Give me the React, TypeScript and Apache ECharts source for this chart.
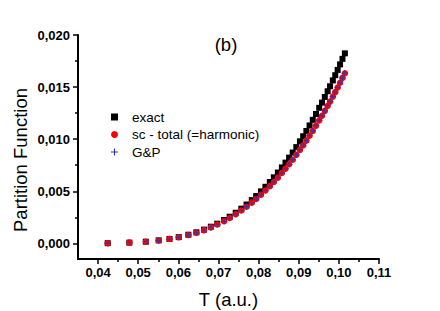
import React, { useEffect, useRef } from "react";
import * as echarts from "echarts";

const temperatures = [0.0424,0.0478,0.0519,0.0551,0.0578,0.0601,0.0625,0.0645,0.0664,0.0681,0.0697,0.0714,0.0728,0.0743,0.0757,0.0770,0.0783,0.0794,0.0806,0.0817,0.0828,0.0838,0.0848,0.0858,0.0867,0.0876,0.0885,0.0894,0.0903,0.0911,0.0919,0.0927,0.0935,0.0943,0.0951,0.0958,0.0965,0.0972,0.0978,0.0985,0.0991,0.0997,0.1003,0.1009,0.1015];

const exactValues = [0.00002,0.00007,0.00016,0.00029,0.00043,0.00060,0.00083,0.00106,0.00132,0.00160,0.00189,0.00224,0.00256,0.00294,0.00333,0.00373,0.00415,0.00454,0.00499,0.00543,0.00589,0.00634,0.00680,0.00729,0.00775,0.00823,0.00872,0.00924,0.00979,0.01028,0.01079,0.01132,0.01186,0.01242,0.01301,0.01351,0.01405,0.01460,0.01508,0.01564,0.01614,0.01665,0.01718,0.01771,0.01824];

const scValues = [0.00002,0.00007,0.00016,0.00028,0.00042,0.00059,0.00080,0.00102,0.00127,0.00153,0.00181,0.00213,0.00243,0.00279,0.00315,0.00352,0.00391,0.00426,0.00467,0.00507,0.00549,0.00589,0.00631,0.00675,0.00716,0.00759,0.00803,0.00850,0.00898,0.00941,0.00986,0.01033,0.01080,0.01130,0.01181,0.01225,0.01272,0.01320,0.01361,0.01409,0.01452,0.01496,0.01542,0.01588,0.01633];

const gpValues = [0.00002,0.00007,0.00016,0.00028,0.00042,0.00059,0.00080,0.00102,0.00127,0.00153,0.00181,0.00213,0.00243,0.00279,0.00315,0.00352,0.00391,0.00426,0.00467,0.00507,0.00549,0.00589,0.00631,0.00675,0.00716,0.00759,0.00803,0.00850,0.00898,0.00941,0.00986,0.01033,0.01080,0.01130,0.01181,0.01225,0.01272,0.01320,0.01361,0.01409,0.01452,0.01496,0.01542,0.01588,0.01633];

const xMajorTicks = [0.04, 0.05, 0.06, 0.07, 0.08, 0.09, 0.10, 0.11];
const xMinorTicks = [0.045, 0.055, 0.065, 0.075, 0.085, 0.095, 0.105];
const yMajorTicks = [0, 0.005, 0.01, 0.015, 0.02];
const yMinorTicks = [0.0025, 0.0075, 0.0125, 0.0175];

const seriesNames = ["exact", "sc - total (=harmonic)", "G&P"];

const FONT = "'Liberation Sans', Arial, Helvetica, sans-serif";
const PLUS = "path://M4.2,0H5.8V4.2H10V5.8H5.8V10H4.2V5.8H0V4.2H4.2Z";

const pairs = (ys: number[]) => temperatures.map((t, i) => [t, ys[i]]);

export default function App() {
  const ref = useRef<HTMLDivElement>(null);
  useEffect(() => {
    if (!ref.current) return;
    const chart = echarts.init(ref.current, null, { renderer: "svg" });
    const axisLine = { show: true, onZero: false, lineStyle: { color: "#000", width: 2 } };
    chart.setOption({
      animation: false,
      backgroundColor: "#fff",
      grid: { left: 78, right: 61, top: 35, bottom: 52 },
      xAxis: [
        {
          type: "value", min: 0.035, max: 0.11, position: "bottom",
          axisLine,
          splitLine: { show: false },
          axisTick: { show: true, inside: false, length: 5, customValues: xMajorTicks, lineStyle: { color: "#000", width: 1.5 } },
          axisLabel: {
            show: true, customValues: xMajorTicks, margin: 7,
            formatter: (v: number) => v.toFixed(2).replace(".", ","),
            fontFamily: FONT, fontWeight: "bold", fontSize: 13, color: "#000",
          },
        },
        {
          type: "value", min: 0.035, max: 0.11, position: "bottom",
          axisLine: { show: false, onZero: false },
          splitLine: { show: false },
          axisTick: { show: true, inside: false, length: 3, customValues: xMinorTicks, lineStyle: { color: "#000", width: 1.5 } },
          axisLabel: { show: false },
        },
      ],
      yAxis: [
        {
          type: "value", min: -0.0015, max: 0.02, position: "left",
          axisLine,
          splitLine: { show: false },
          axisTick: { show: true, inside: false, length: 5, customValues: yMajorTicks, lineStyle: { color: "#000", width: 1.5 } },
          axisLabel: {
            show: true, customValues: yMajorTicks, margin: 8,
            formatter: (v: number) => v.toFixed(3).replace(".", ","),
            fontFamily: FONT, fontWeight: "bold", fontSize: 13, color: "#000",
          },
        },
        {
          type: "value", min: -0.0015, max: 0.02, position: "left",
          axisLine: { show: false, onZero: false },
          splitLine: { show: false },
          axisTick: { show: true, inside: false, length: 3, customValues: yMinorTicks, lineStyle: { color: "#000", width: 1.5 } },
          axisLabel: { show: false },
        },
      ],
      legend: {
        orient: "vertical", left: 106, top: 105,
        itemWidth: 7, itemHeight: 7, itemGap: 3.5,
        textStyle: { fontFamily: FONT, fontSize: 13.5, color: "#000", padding: [0, 0, 0, 9], lineHeight: 14 },
        data: seriesNames,
      },
      series: [
        {
          name: seriesNames[0], type: "scatter", symbol: "rect", symbolSize: 6,
          itemStyle: { color: "#000", opacity: 1 }, data: pairs(exactValues),
        },
        {
          name: seriesNames[1], type: "scatter", symbol: "circle", symbolSize: 6.5,
          itemStyle: { color: "#ff0000", opacity: 1 }, data: pairs(scValues),
        },
        {
          name: seriesNames[2], type: "scatter", symbol: PLUS, symbolSize: 6,
          itemStyle: { color: "#3333b0", opacity: 1 }, data: pairs(gpValues),
        },
      ],
      graphic: [
        {
          type: "text", x: 20, y: 160, rotation: Math.PI / 2,
          style: { text: "Partition Function", fontFamily: FONT, fontSize: 18.5, fill: "#000", align: "center", verticalAlign: "middle" },
        },
        {
          type: "text", x: 228.5, y: 299.5,
          style: { text: "T (a.u.)", fontFamily: FONT, fontSize: 18.5, fill: "#000", align: "center", verticalAlign: "middle" },
        },
        {
          type: "text", x: 226, y: 44,
          style: { text: "(b)", fontFamily: FONT, fontSize: 18.5, fill: "#000", align: "center", verticalAlign: "middle" },
        },
      ],
    });
    return () => chart.dispose();
  }, []);
  return (
    <div
      ref={ref}
      style={{ position: "fixed", left: 0, top: 0, width: 440, height: 311 }}
    />
  );
}
